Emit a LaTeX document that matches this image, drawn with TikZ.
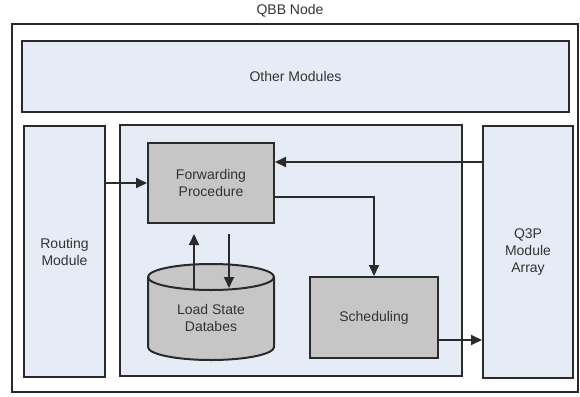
\documentclass[tikz,border=0pt]{standalone}
\usepackage{fontspec}
\setmainfont{Liberation Sans}
\setsansfont{Liberation Sans}
\usetikzlibrary{arrows.meta}
\definecolor{lightfill}{HTML}{E6ECF6}
\definecolor{grayfill}{HTML}{C6C6C6}
\definecolor{linec}{HTML}{2A2A2A}
\definecolor{textc}{HTML}{333333}
\tikzset{
  lbl/.style={text=textc, font=\fontsize{14}{17}\selectfont, align=center},
  box/.style={lbl, draw=linec, line width=2pt, fill=lightfill, inner sep=0pt},
  graybox/.style={box, fill=grayfill},
  conn/.style={draw=linec, line width=1.8pt, -{Triangle[length=11pt,width=10pt]}},
}
\begin{document}
\begin{tikzpicture}[x=1pt,y=-1pt]
\useasboundingbox (0,0) rectangle (580,396);
\fill[white] (0,0) rectangle (580,396);
\node[lbl] (title) at (290,11) {QBB Node};
\node[draw=linec, line width=1.4pt, fill=white, minimum width=566pt, minimum height=368pt] (outer) at (295,208) {};
\node[box, minimum width=547pt, minimum height=71pt] (other) at (295.5,76.5) {Other Modules};
\node[box, minimum width=81pt, minimum height=251pt] (routing) at (64.5,251.5) {Routing\\Module};
\node[box, minimum width=342pt, minimum height=251pt] (inner) at (291,250.5) {};
\node[box, minimum width=90pt, minimum height=252pt] (q3p) at (528,252) {Q3P\\Module\\Array};
\node[graybox, minimum width=126pt, minimum height=80pt] (fwd) at (211,183) {Forwarding\\Procedure};
\node[graybox, minimum width=128pt, minimum height=81pt] (sched) at (374,317.5) {Scheduling};
% cylinder
\draw[draw=linec, line width=2pt, fill=grayfill] (148,277) -- (148,347)
  arc[start angle=180, end angle=360, x radius=63pt, y radius=13pt] -- (274,277)
  arc[start angle=0, end angle=180, x radius=63pt, y radius=13pt] -- cycle;
\draw[draw=linec, line width=2pt] (148,277)
  arc[start angle=180, end angle=360, x radius=63pt, y radius=13pt];
\node[lbl] (db) at (211,318) {Load State\\Databes};
\coordinate (dbup) at (194,289);
\coordinate (dbdown) at (229,288);
% connectors
\draw[conn] (routing.east |- fwd.west) -- (fwd.west);
\coordinate (fwdin) at ([yshift=21pt]fwd.east);
\draw[conn] (q3p.west |- fwdin) -- (fwdin);
\draw[conn] ([yshift=-14pt]fwd.east) -| (sched.north);
\coordinate (schedout) at ([yshift=-22.5pt]sched.east);
\draw[conn] (schedout) -- (q3p.west |- schedout);
\draw[conn] (dbup) -- ([yshift=-10pt]dbup |- fwd.south);
\draw[conn] ([yshift=-10pt]dbdown |- fwd.south) -- (dbdown);
\end{tikzpicture}
\end{document}
